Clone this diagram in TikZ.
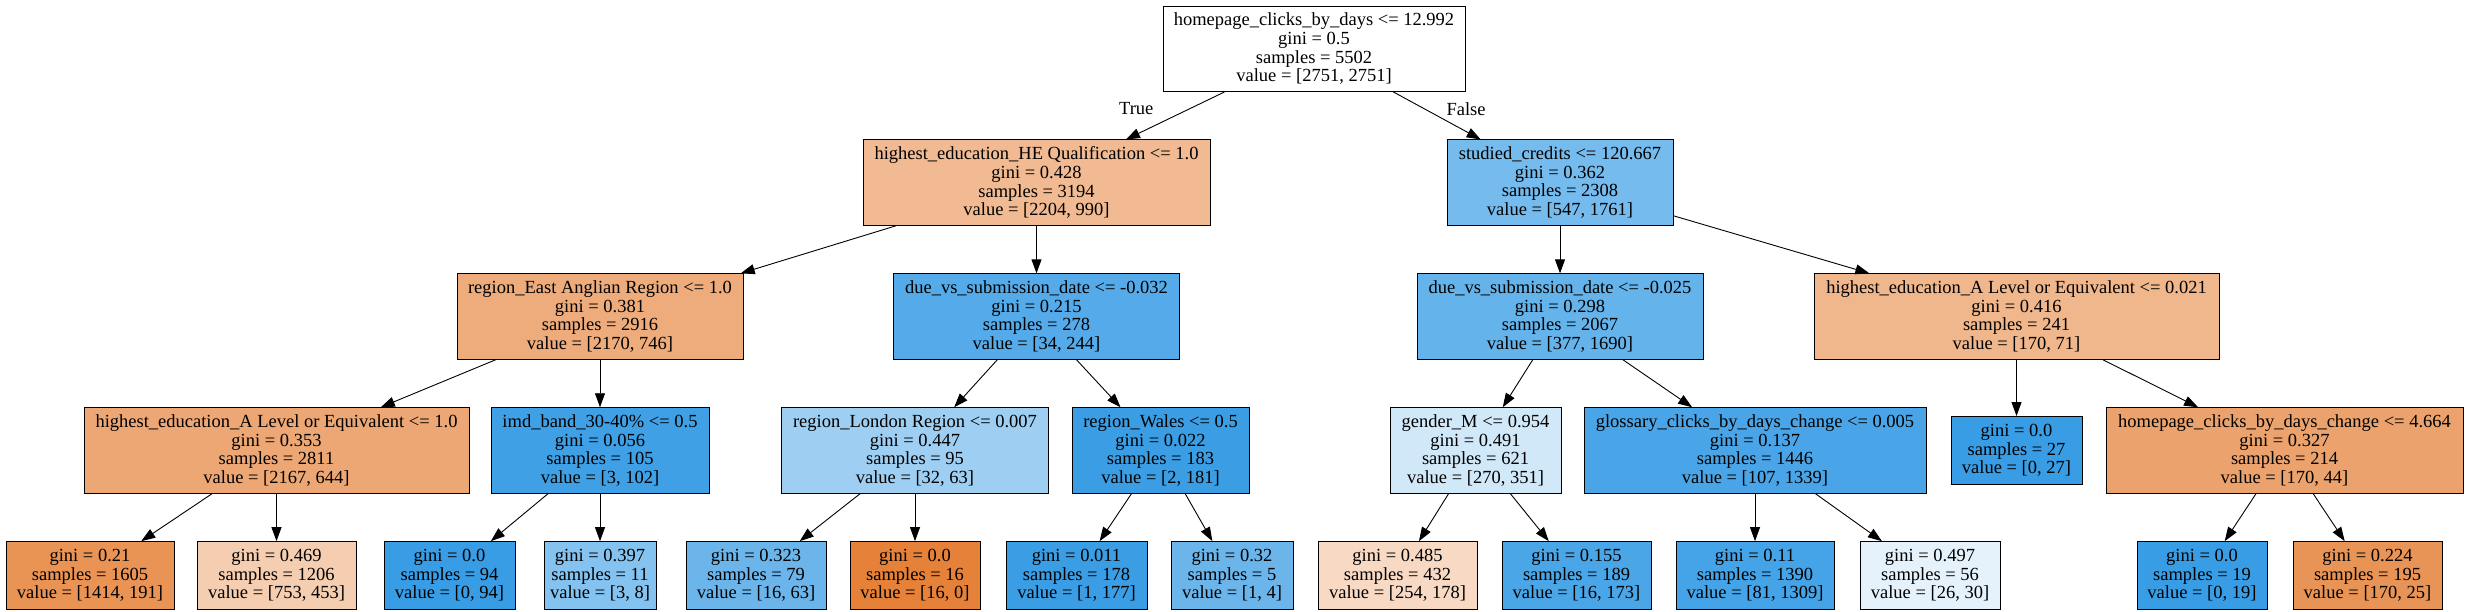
\documentclass[tikz,border=0pt]{standalone}
\usepackage{fontspec}
\setmainfont{Liberation Serif}
\usetikzlibrary{arrows.meta,positioning}
\definecolor{orng}{RGB}{229,129,57}
\definecolor{blu}{RGB}{57,157,229}

\begin{document}
\begin{tikzpicture}[x=1pt, y=-1pt, node distance=47.5pt,
    box/.style={rectangle, draw, line width=0.9pt, align=center, inner xsep=4pt, minimum height=85.5pt, font=\fontsize{18.5pt}{18.6pt}\selectfont},
    leaf/.style={box, minimum height=68pt},
    edge/.style={line width=0.9pt, -{Triangle[length=14pt, width=10pt]}},
    lbl/.style={font=\fontsize{18.5pt}{18.6pt}\selectfont}]
    \useasboundingbox (0,0) rectangle (2468,611);

    \node[box, minimum width=302pt, fill=white] (root) at (1314,48.75) {homepage\_clicks\_by\_days <= 12.992\\gini = 0.5\\samples = 5502\\value = [2751, 2751]};
    \node[box, minimum width=347pt, fill=orng!55, below=of root, xshift=-277.5pt] (heq) {highest\_education\_HE Qualification <= 1.0\\gini = 0.428\\samples = 3194\\value = [2204, 990]};
    \node[box, minimum width=226pt, fill=blu!69, below=of root, xshift=246pt] (credits) {studied\_credits <= 120.667\\gini = 0.362\\samples = 2308\\value = [547, 1761]};
    \node[box, minimum width=286pt, fill=orng!66, below=of heq, xshift=-436.5pt] (eastang) {region\_East Anglian Region <= 1.0\\gini = 0.381\\samples = 2916\\value = [2170, 746]};
    \node[box, minimum width=286pt, fill=blu!86, below=of heq] (duesubA) {due\_vs\_submission\_date <= -0.032\\gini = 0.215\\samples = 278\\value = [34, 244]};
    \node[box, minimum width=286pt, fill=blu!78, below=of credits] (duesubB) {due\_vs\_submission\_date <= -0.025\\gini = 0.298\\samples = 2067\\value = [377, 1690]};
    \node[box, minimum width=405pt, fill=orng!58, below=of credits, xshift=456.5pt] (alevelB) {highest\_education\_A Level or Equivalent <= 0.021\\gini = 0.416\\samples = 241\\value = [170, 71]};
    \node[box, minimum width=385pt, fill=orng!70, below=of eastang, xshift=-323.5pt] (alevelA) {highest\_education\_A Level or Equivalent <= 1.0\\gini = 0.353\\samples = 2811\\value = [2167, 644]};
    \node[box, minimum width=218pt, fill=blu!97, below=of eastang] (imd) {imd\_band\_30-40\% <= 0.5\\gini = 0.056\\samples = 105\\value = [3, 102]};
    \node[box, minimum width=267pt, fill=blu!49, below=of duesubA, xshift=-121.5pt] (london) {region\_London Region <= 0.007\\gini = 0.447\\samples = 95\\value = [32, 63]};
    \node[box, minimum width=177pt, fill=blu!99, below=of duesubA, xshift=124pt] (wales) {region\_Wales <= 0.5\\gini = 0.022\\samples = 183\\value = [2, 181]};
    \node[box, minimum width=171pt, fill=blu!23, below=of duesubB, xshift=-84.5pt] (gender) {gender\_M <= 0.954\\gini = 0.491\\samples = 621\\value = [270, 351]};
    \node[box, minimum width=342pt, fill=blu!92, below=of duesubB, xshift=195pt] (glossary) {glossary\_clicks\_by\_days\_change <= 0.005\\gini = 0.137\\samples = 1446\\value = [107, 1339]};
    \node[leaf, minimum width=131pt, fill=blu, below=56.25pt of alevelB] (leafR) {gini = 0.0\\samples = 27\\value = [0, 27]};
    \node[box, minimum width=357pt, fill=orng!74, below=of alevelB, xshift=268pt] (hpchange) {homepage\_clicks\_by\_days\_change <= 4.664\\gini = 0.327\\samples = 214\\value = [170, 44]};
    \node[leaf, minimum width=168pt, fill=orng!86, below=of alevelA, xshift=-186.5pt] (leafA) {gini = 0.21\\samples = 1605\\value = [1414, 191]};
    \node[leaf, minimum width=159pt, fill=orng!40, below=of alevelA] (leafB) {gini = 0.469\\samples = 1206\\value = [753, 453]};
    \node[leaf, minimum width=131pt, fill=blu, below=of imd, xshift=-150.5pt] (leafC) {gini = 0.0\\samples = 94\\value = [0, 94]};
    \node[leaf, minimum width=112pt, fill=blu!62, below=of imd] (leafD) {gini = 0.397\\samples = 11\\value = [3, 8]};
    \node[leaf, minimum width=140pt, fill=blu!75, below=of london, xshift=-159pt] (leafE) {gini = 0.323\\samples = 79\\value = [16, 63]};
    \node[leaf, minimum width=130pt, fill=orng, below=of london] (leafF) {gini = 0.0\\samples = 16\\value = [16, 0]};
    \node[leaf, minimum width=141pt, fill=blu!99, below=of wales, xshift=-84pt] (leafG) {gini = 0.011\\samples = 178\\value = [1, 177]};
    \node[leaf, minimum width=122pt, fill=blu!75, below=of wales, xshift=71.5pt] (leafH) {gini = 0.32\\samples = 5\\value = [1, 4]};
    \node[leaf, minimum width=159pt, fill=orng!30, below=of gender, xshift=-78pt] (leafI) {gini = 0.485\\samples = 432\\value = [254, 178]};
    \node[leaf, minimum width=149pt, fill=blu!91, below=of gender, xshift=101pt] (leafJ) {gini = 0.155\\samples = 189\\value = [16, 173]};
    \node[leaf, minimum width=158pt, fill=blu!94, below=of glossary] (leafK) {gini = 0.11\\samples = 1390\\value = [81, 1309]};
    \node[leaf, minimum width=140pt, fill=blu!13, below=of glossary, xshift=175pt] (leafL) {gini = 0.497\\samples = 56\\value = [26, 30]};
    \node[leaf, minimum width=130pt, fill=blu, below=of hpchange, xshift=-82.5pt] (leafM) {gini = 0.0\\samples = 19\\value = [0, 19]};
    \node[leaf, minimum width=149pt, fill=orng!85, below=of hpchange, xshift=83pt] (leafN) {gini = 0.224\\samples = 195\\value = [170, 25]};

    \draw[edge] (root) -- node[lbl, xshift=-39pt, yshift=7pt] (ltrue) {True} (heq);
    \draw[edge] (root) -- node[lbl, xshift=29pt, yshift=7pt] (lfalse) {False} (credits);
    \draw[edge] (heq) -- (eastang);
    \draw[edge] (heq) -- (duesubA);
    \draw[edge] (credits) -- (duesubB);
    \draw[edge] (credits) -- (alevelB);
    \draw[edge] (eastang) -- (alevelA);
    \draw[edge] (eastang) -- (imd);
    \draw[edge] (duesubA) -- (london);
    \draw[edge] (duesubA) -- (wales);
    \draw[edge] (duesubB) -- (gender);
    \draw[edge] (duesubB) -- (glossary);
    \draw[edge] (alevelB) -- (leafR);
    \draw[edge] (alevelB) -- (hpchange);
    \draw[edge] (alevelA) -- (leafA);
    \draw[edge] (alevelA) -- (leafB);
    \draw[edge] (imd) -- (leafC);
    \draw[edge] (imd) -- (leafD);
    \draw[edge] (london) -- (leafE);
    \draw[edge] (london) -- (leafF);
    \draw[edge] (wales) -- (leafG);
    \draw[edge] (wales) -- (leafH);
    \draw[edge] (gender) -- (leafI);
    \draw[edge] (gender) -- (leafJ);
    \draw[edge] (glossary) -- (leafK);
    \draw[edge] (glossary) -- (leafL);
    \draw[edge] (hpchange) -- (leafM);
    \draw[edge] (hpchange) -- (leafN);
\end{tikzpicture}
\end{document}
